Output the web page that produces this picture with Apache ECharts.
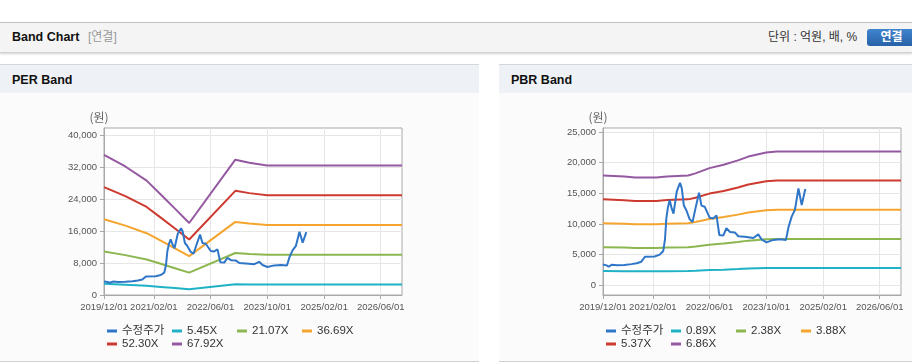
<!DOCTYPE html>
<html><head><meta charset="utf-8">
<script src="https://cdn.jsdelivr.net/npm/echarts@6/dist/echarts.min.js"></script>
<style>
html,body{margin:0;padding:0;width:912px;height:364px;overflow:hidden;background:#fff;font-family:"Liberation Sans","Noto Sans CJK KR",sans-serif;}
.abs{position:absolute;}
#topline{left:0;top:22px;width:912px;height:0;border-top:1px solid #c4c4c4;}
#hdr{left:0;top:23px;width:912px;height:29px;background:#f4f4f4;border-bottom:1px solid #d2d2d2;box-shadow:0 1px 2px rgba(0,0,0,0.18);}
#t1{left:12px;top:23px;line-height:29px;font-size:12.5px;font-weight:bold;color:#111;}
#t2{left:88px;top:23px;line-height:29px;font-size:12px;color:#999;}
#unit{left:768px;top:23px;line-height:29px;font-size:12px;color:#333;}
#btn{left:867px;top:29px;width:49px;height:17px;border-radius:3px;background:linear-gradient(#4184cf,#2862a8);color:#fff;font-size:12px;font-weight:bold;line-height:17px;text-align:center;}
.panel{top:64px;height:296px;border-top:1px solid #d6d6d6;border-bottom:1px solid #d0d0d0;background:#fbfbfb;}
.ph{position:absolute;left:0;top:0;width:100%;height:28px;background:#eef2f7;}
.ph span{position:absolute;left:12px;top:0;line-height:31px;font-size:12.5px;font-weight:bold;color:#111;}
#p1{left:0;width:479px;}
#p2{left:499px;width:413px;}
#chart{left:0;top:0;width:912px;height:364px;}
</style></head>
<body>
<div id="topline" class="abs"></div>
<div id="hdr" class="abs"></div>
<div id="t1" class="abs">Band Chart</div>
<div id="t2" class="abs">[연결]</div>
<div id="unit" class="abs">단위 : 억원, 배, %</div>
<div id="btn" class="abs">연결</div>
<div id="p1" class="abs panel"><div class="ph"><span>PER Band</span></div></div>
<div id="p2" class="abs panel"><div class="ph"><span>PBR Band</span></div></div>
<div id="chart" class="abs"></div>
<script>
// ---- data ----
const xTickDates = ['2019-12-01','2021-02-01','2022-06-01','2023-10-01','2025-02-01','2026-06-01'];
const xMin = '2019-12-01';
const xMax = '2026-12-01';
const perTicks = [0, 8000, 16000, 24000, 32000, 40000];
const pbrTicks = [0, 5000, 10000, 15000, 20000, 25000];

const priceDates = ['2019-12-01','2020-01-01','2020-01-19','2020-02-16','2020-04-01','2020-06-01','2020-08-01','2020-09-16','2020-10-25','2020-11-25',
  '2021-02-16','2021-04-01','2021-05-01','2021-05-16','2021-05-28','2021-06-10','2021-06-25','2021-07-13','2021-07-28','2021-08-25',
  '2021-09-22','2021-10-07','2021-10-25','2021-11-16','2021-12-13','2022-01-07','2022-02-01','2022-03-04','2022-03-25','2022-04-22',
  '2022-06-04','2022-07-04','2022-08-01','2022-08-25','2022-09-28','2022-10-25','2022-11-25','2023-01-07','2023-02-04','2023-04-01',
  '2023-06-13','2023-07-25','2023-08-22','2023-10-04','2023-12-01','2024-01-28','2024-03-19','2024-04-10','2024-05-07','2024-06-04',
  '2024-07-04','2024-08-01','2024-09-01'];
const priceValues = [3400,3250,3050,3350,3250,3300,3450,3600,3850,4650,
  4700,5000,5600,7500,11000,12700,13900,12500,11700,15300,
  16700,15800,13000,12200,10800,10300,12500,15100,13000,12800,
  11000,10900,11400,8200,8100,9300,8700,8600,8000,7900,
  7700,8300,7500,7000,7400,7500,7400,9500,11200,12300,
  15800,13100,15700];

const perBandDates = ['2019-12-01','2020-06-01','2020-12-01','2021-04-01','2021-08-01','2021-12-01','2023-01-01','2023-05-01','2023-10-01','2026-12-01'];
const per545  = [2812, 2578, 2294, 2017, 1733, 1444, 2714, 2654, 2600, 2600];
const per2107 = [10872, 9966, 8870, 7796, 6700, 5584, 10493, 10261, 10050, 10050];
const per3669 = [18932, 17354, 15446, 13575, 11667, 9723, 18272, 17868, 17501, 17501];
const per5230 = [26987, 24738, 22018, 19351, 16631, 13860, 26045, 25470, 24947, 24947];
const per6792 = [35047, 32126, 28594, 25130, 21599, 17999, 33824, 33077, 32398, 32398];

const pbrBandDates = ['2019-12-01','2020-06-01','2020-09-01','2021-03-01','2021-06-01','2021-12-01','2022-02-01','2022-06-01','2022-10-01','2023-02-01','2023-05-01','2023-10-01','2024-01-01','2026-12-01'];
const pbr089 = [2323, 2301, 2281, 2281, 2302, 2323, 2367, 2479, 2551, 2643, 2723, 2811, 2830, 2830];
const pbr238 = [6212, 6152, 6100, 6100, 6157, 6212, 6331, 6628, 6821, 7069, 7283, 7516, 7568, 7568];
const pbr388 = [10127, 10030, 9944, 9944, 10038, 10127, 10321, 10806, 11120, 11524, 11873, 12253, 12338, 12338];
const pbr537 = [14016, 13881, 13763, 13763, 13892, 14016, 14284, 14955, 15390, 15949, 16432, 16958, 17077, 17077];
const pbr686 = [17905, 17733, 17582, 17582, 17747, 17905, 18248, 19105, 19661, 20374, 20992, 21664, 21815, 21815];

const perNames = ['수정주가','5.45X','21.07X','36.69X','52.30X','67.92X'];
const pbrNames = ['수정주가','0.89X','2.38X','3.88X','5.37X','6.86X'];
const colors = ['#2f76c8','#1fb2c6','#8cb650','#f5a52e','#cd3a2f','#9459a0'];

// ---- build ----
const ts = s => { const p = s.split('-').map(Number); return Date.UTC(p[0], p[1] - 1, p[2]); };
const pair = (d, v) => d.map((x, i) => [ts(x), v[i]]);
const axisFont = "'Liberation Sans',sans-serif";
const pad2 = n => (n < 10 ? '0' : '') + n;
const fmtDate = v => { const d = new Date(v); return d.getUTCFullYear() + '/' + pad2(d.getUTCMonth() + 1) + '/' + pad2(d.getUTCDate()); };
const fmtNum = v => Math.round(v).toString().replace(/\B(?=(\d{3})+(?!\d))/g, ',');
const gridLine = '#a9a9a9';
const xTickValues = xTickDates.map(ts);

function xAxis(gi) {
  return {
    type: 'value', gridIndex: gi, min: ts(xMin), max: ts(xMax),
    axisLine: { show: true, onZero: false, lineStyle: { color: gridLine } },
    axisTick: { show: true, length: 4, lineStyle: { color: gridLine }, customValues: xTickValues },
    axisLabel: { customValues: xTickValues, formatter: fmtDate, color: '#555', fontSize: 9.5, fontFamily: axisFont, margin: 7, hideOverlap: false, showMinLabel: true, showMaxLabel: true },
    splitLine: { show: true, lineStyle: { color: '#e6e6e6' } }
  };
}
function yAxis(gi, min, max, ticks) {
  return {
    type: 'value', gridIndex: gi, min: min, max: max,
    axisLine: { show: true, lineStyle: { color: gridLine } },
    axisTick: { show: true, length: 4, lineStyle: { color: gridLine }, customValues: ticks },
    axisLabel: { customValues: ticks, formatter: fmtNum, color: '#555', fontSize: 9.5, fontFamily: axisFont, margin: 7 },
    splitLine: { show: true, lineStyle: { color: '#e6e6e6' } },
    name: '(원)', nameLocation: 'end', nameGap: 5,
    nameTextStyle: { color: '#666', fontSize: 12, fontFamily: "'Noto Sans CJK KR',sans-serif", align: 'center', padding: [0, 10, 0, 0] }
  };
}
function lineSeries(name, gi, data, color, z) {
  return { name: name, type: 'line', xAxisIndex: gi, yAxisIndex: gi, data: data, showSymbol: false, symbol: 'none',
    lineStyle: { width: 2, color: color }, itemStyle: { color: color }, z: z, animation: false };
}

const series = [];
const perBands = [per545, per2107, per3669, per5230, per6792];
const pbrBands = [pbr089, pbr238, pbr388, pbr537, pbr686];
perBands.forEach((b, i) => series.push(lineSeries(perNames[i + 1], 0, pair(perBandDates, b), colors[i + 1], 2)));
series.push(lineSeries(perNames[0], 0, pair(priceDates, priceValues), colors[0], 3));
pbrBands.forEach((b, i) => series.push(lineSeries(pbrNames[i + 1], 1, pair(pbrBandDates, b), colors[i + 1], 2)));
series.push(lineSeries(pbrNames[0] + ' ', 1, pair(priceDates, priceValues), colors[0], 3));

const legendCols = [107, 172, 237, 302];
const legends = [];
function addLegends(names, offset, suffix) {
  names.forEach((n, i) => {
    const row = i < 4 ? 0 : 1;
    const col = i < 4 ? i : i - 4;
    legends.push({
      data: [i === 0 ? n + suffix : n], left: legendCols[col] + offset, top: row === 0 ? 324 : 337,
      padding: 0, itemWidth: 10, itemHeight: 3, icon: 'rect', selectedMode: false,
      formatter: s => s.trim(),
      textStyle: { color: '#333', fontSize: 11.5, lineHeight: 14, fontFamily: "'Liberation Sans','Noto Sans CJK KR',sans-serif" }
    });
  });
}
addLegends(perNames, 0, '');
addLegends(pbrNames, 499, ' ');

const chart = echarts.init(document.getElementById('chart'), null, { renderer: 'canvas' });
chart.setOption({
  animation: false,
  backgroundColor: 'transparent',
  grid: [
    { left: 104, top: 128, width: 298, height: 167, show: true, borderColor: gridLine, borderWidth: 1, backgroundColor: '#fff' },
    { left: 603, top: 128, width: 298, height: 167, show: true, borderColor: gridLine, borderWidth: 1, backgroundColor: '#fff' }
  ],
  xAxis: [xAxis(0), xAxis(1)],
  yAxis: [yAxis(0, 0, 41750, perTicks), yAxis(1, -1585, 25654, pbrTicks)],
  legend: legends,
  tooltip: { show: false },
  series: series
});
</script>
</body></html>
